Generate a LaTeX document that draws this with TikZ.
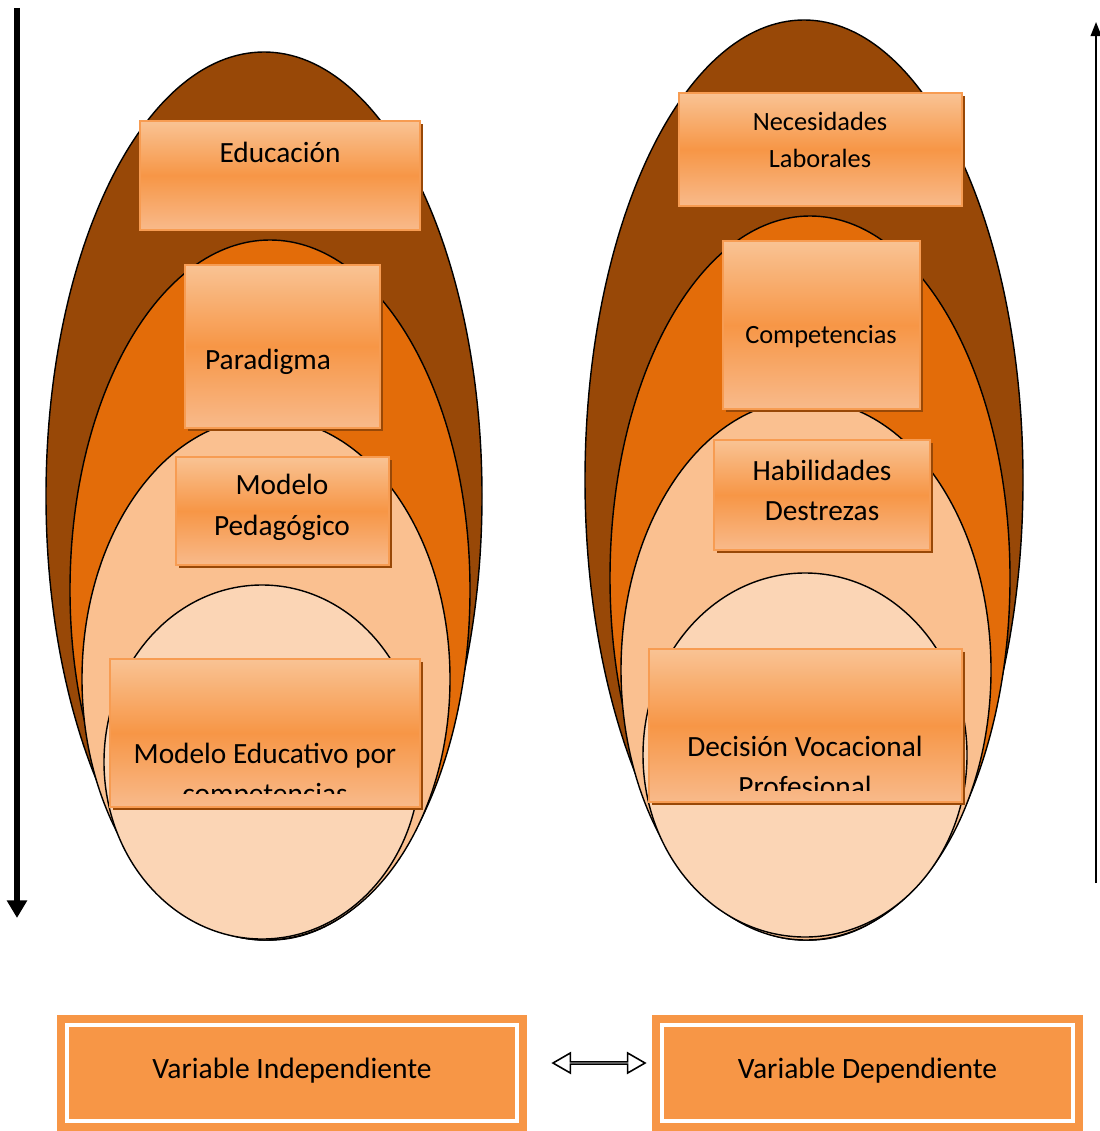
\documentclass[tikz,border=0pt]{standalone}
\usepackage{fontspec}
\setmainfont{Carlito}
\usetikzlibrary{arrows.meta,shadows,shapes.arrows}

\definecolor{cafe}{HTML}{984807}
\definecolor{naranja}{HTML}{E36C09}
\definecolor{durazno}{HTML}{FAC090}
\definecolor{crema}{HTML}{FBD5B5}
\definecolor{cajamedio}{HTML}{F79646}
\definecolor{cajaclaro}{HTML}{F9C394}
\definecolor{cajabajo}{HTML}{F8BA8B}
\definecolor{cajaborde}{HTML}{F79C52}

\tikzset{
  elipse/.style={draw=black, line width=0.8pt},
  caja/.style={rectangle, draw=cajaborde, line width=1.1pt, top color=cajaclaro, bottom color=cajabajo, middle color=cajamedio, inner sep=0pt, drop shadow={fill=cafe, opacity=1, shadow xshift=1.7pt, shadow yshift=-1.7pt}},
  texto/.style={align=center, inner sep=0pt, font=\fontsize{16.7}{23}\selectfont},
  textochico/.style={align=center, inner sep=0pt, font=\fontsize{15}{21.5}\selectfont},
  cajavar/.style={rectangle, fill=cajamedio, inner sep=0pt},
  textovar/.style={inner sep=0pt, font=\fontsize{16.8}{19}\selectfont},
}

\begin{document}
\begin{tikzpicture}[x=0.02cm, y=-0.02cm]
\useasboundingbox (0,0) rectangle (1099,1131);
% Left side ellipses
\draw[elipse, fill=cafe] (264,496) ellipse [x radius=218, y radius=444]; % outer
\draw[elipse, fill=naranja] (270,590) ellipse [x radius=200, y radius=350];
\draw[elipse, fill=durazno] (266,679) ellipse [x radius=184, y radius=261];
\draw[elipse, fill=crema] (262,762) ellipse [x radius=158, y radius=177]; % inner
% Right side ellipses
\draw[elipse, fill=cafe] (804,480) ellipse [x radius=219, y radius=460]; % outer
\draw[elipse, fill=naranja] (810,578) ellipse [x radius=200, y radius=362];
\draw[elipse, fill=durazno] (806,670) ellipse [x radius=185, y radius=270];
\draw[elipse, fill=crema] (805,755) ellipse [x radius=162, y radius=182]; % inner
% Boxes (left)
\node[caja, minimum width=5.6cm, minimum height=2.18cm] (educ) at (280,175.5) {};
\node[texto] (educ-t) at (280,152) {Educación};
\node[caja, minimum width=3.9cm, minimum height=3.26cm] (parad) at (282.5,346.5) {};
\node[texto] (parad-t) at (268,362) {Paradigma};
\node[caja, minimum width=4.26cm, minimum height=2.16cm] (modped) at (282.5,511) {};
\node[texto] (modped-t) at (282,507.5) {Modelo\\Pedagógico};
\node[caja, minimum width=6.2cm, minimum height=2.96cm] (modedu) at (265,733) {};
\begin{scope}
\clip (110,659) rectangle (420,793);
\node[texto] (modedu-t) at (265,775.5) {Modelo Educativo por\\competencias};
\end{scope}
% Boxes (right)
\node[caja, minimum width=5.66cm, minimum height=2.26cm] (necesid) at (820.5,149.5) {};
\node[textochico] (necesid-t) at (820,140) {Necesidades\\Laborales};
\node[caja, minimum width=3.94cm, minimum height=3.36cm] (compet) at (821.5,325) {};
\node[textochico] (compet-t) at (821,337) {Competencias};
\node[caja, minimum width=4.32cm, minimum height=2.2cm] (habil) at (822,495) {};
\node[texto] (habil-t) at (822,490.5) {Habilidades\\Destrezas};
\node[caja, minimum width=6.26cm, minimum height=3.06cm] (decis) at (805.5,725.5) {};
\begin{scope}
\clip (649,649) rectangle (962,790);
\node[texto] (decis-t) at (805,766.5) {Decisión Vocacional\\Profesional};
\end{scope}
% Side arrows
\coordinate (izq-a) at (17,8);
\coordinate (izq-b) at (17,918);
\draw[line width=3pt, -{Triangle[length=10pt,width=11pt]}] (izq-a) -- (izq-b);
\coordinate (der-a) at (1096,883);
\coordinate (der-b) at (1096,22);
\draw[line width=1.1pt, -{Triangle[length=8pt,width=6pt]}] (der-a) -- (der-b);
% Variables
\node[cajavar, minimum width=9.4cm, minimum height=2.32cm] (vi) at (292,1073) {};
\draw[white, line width=2.2pt] ([shift={(10,10)}]vi.north west) rectangle ([shift={(-10,-10)}]vi.south east);
\node[textovar] (vi-t) at (292,1071) {Variable Independiente};
\node[cajavar, minimum width=8.62cm, minimum height=2.32cm] (vd) at (867.5,1073) {};
\draw[white, line width=2.2pt] ([shift={(10,10)}]vd.north west) rectangle ([shift={(-10,-10)}]vd.south east);
\node[textovar] (vd-t) at (867.5,1071) {Variable Dependiente};
\node[double arrow, draw=black, fill=white, line width=0.9pt, inner sep=0pt, minimum height=1.84cm, minimum width=0.4cm, double arrow head extend=0.12cm, double arrow tip angle=60] (flecha) at (599,1063) {};
\end{tikzpicture}
\end{document}
